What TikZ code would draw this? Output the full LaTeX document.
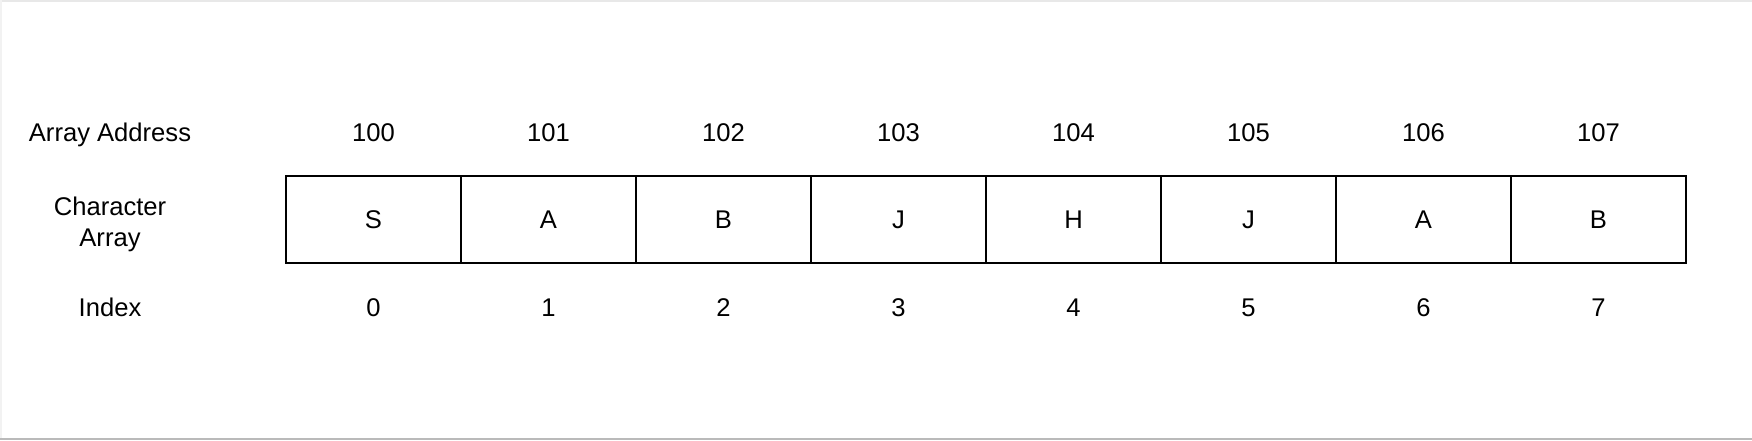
\documentclass[tikz,border=0pt]{standalone}
\usepackage{fontspec}
\setmainfont{Liberation Sans}
\usetikzlibrary{positioning}
\tikzset{
	cell/.style={draw, line width=1pt, minimum width=87.5pt, minimum height=43.5pt, inner sep=0pt, outer sep=0pt},
	lbl/.style={inner sep=0pt, align=center},
	txt/.style={inner sep=0pt, anchor=base},
}

\begin{document}
\begin{tikzpicture}[x=0.5pt, y=-0.5pt, font=\fontsize{12.8}{15.5}\selectfont]
		%%%%% START %%%%%
		\useasboundingbox (0, 0) rectangle (1752, 440);
		\draw[black!9, line width=1pt] (0, 0.5) -- (1752, 0.5);
		\draw[black!5, line width=1pt] (0.5, 0) -- (0.5, 440);
		\draw[black!27, line width=1.2pt] (0, 439) -- (1752, 439);
		
		\node[txt] (lAddr) at (110, 141.7) {Array Address};
		\node[lbl] (lChar) at (110, 224) {Character\\Array};
		\node[txt] (lIdx) at (110, 316.7) {Index};
		
		\node[cell] (c0) at (373.5, 219.5) {S};
		\node[cell] (c1) at (548.5, 219.5) {A};
		\node[cell] (c2) at (723.5, 219.5) {B};
		\node[cell] (c3) at (898.5, 219.5) {J};
		\node[cell] (c4) at (1073.5, 219.5) {H};
		\node[cell] (c5) at (1248.5, 219.5) {J};
		\node[cell] (c6) at (1423.5, 219.5) {A};
		\node[cell] (c7) at (1598.5, 219.5) {B};
		
		\node[txt] (a0) at (373.5, 141.7) {100};
		\node[txt] (a1) at (548.5, 141.7) {101};
		\node[txt] (a2) at (723.5, 141.7) {102};
		\node[txt] (a3) at (898.5, 141.7) {103};
		\node[txt] (a4) at (1073.5, 141.7) {104};
		\node[txt] (a5) at (1248.5, 141.7) {105};
		\node[txt] (a6) at (1423.5, 141.7) {106};
		\node[txt] (a7) at (1598.5, 141.7) {107};
		
		\node[txt] (i0) at (373.5, 316.7) {0};
		\node[txt] (i1) at (548.5, 316.7) {1};
		\node[txt] (i2) at (723.5, 316.7) {2};
		\node[txt] (i3) at (898.5, 316.7) {3};
		\node[txt] (i4) at (1073.5, 316.7) {4};
		\node[txt] (i5) at (1248.5, 316.7) {5};
		\node[txt] (i6) at (1423.5, 316.7) {6};
		\node[txt] (i7) at (1598.5, 316.7) {7};
		%%%%% END %%%%%
\end{tikzpicture}
\end{document}
